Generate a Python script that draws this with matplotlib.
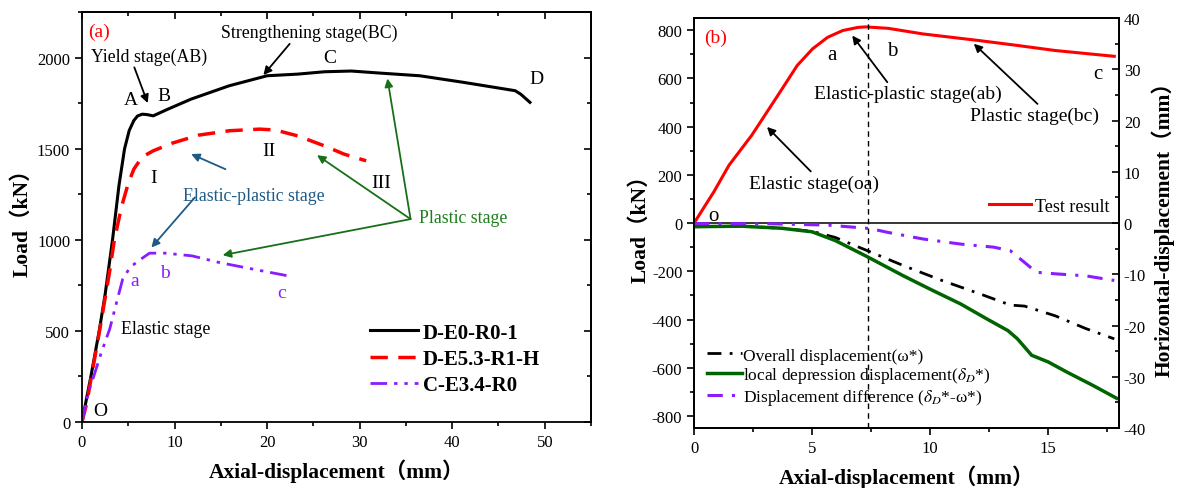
import numpy as np
import matplotlib
matplotlib.use("Agg")
import matplotlib.pyplot as plt
from matplotlib.ticker import MultipleLocator

plt.rcParams['font.family'] = ['Liberation Serif', 'Noto Sans CJK SC']
plt.rcParams['mathtext.fontset'] = 'stix'
plt.rcParams['axes.unicode_minus'] = False

# ---- panel (a): load vs axial displacement ----
a_black_x = [0, 0.5, 1.0, 1.86, 2.5, 3.3, 4.0, 4.6, 5.1, 5.6, 6.0, 6.5, 7.0, 7.7, 9.3, 11.8,
             15.9, 20.0, 23.3, 26.2, 29.1, 32.4, 36.5, 41.2, 46.8, 47.4, 48.4]
a_black_y = [0, 130, 260, 500, 700, 1000, 1300, 1500, 1600, 1655, 1680, 1690, 1688, 1681, 1718, 1773,
             1846, 1901, 1910, 1923, 1927, 1915, 1901, 1865, 1819, 1800, 1755]
a_red_x = [0, 0.5, 1.9, 3.0, 3.5, 4.3, 5.0, 5.6, 6.5, 7.7, 9.75, 12.6, 15.9, 19.2, 20.9, 23.3,
           26.2, 28.3, 30.7]
a_red_y = [0, 100, 500, 830, 1000, 1187, 1310, 1388, 1455, 1489, 1531, 1575, 1599, 1608, 1603, 1571,
           1516, 1471, 1434]
a_purple_x = [0, 0.7, 1.3, 2.1, 3.0, 3.6, 4.4, 5.2, 6.1, 7.3, 9.0, 11.9, 14.8, 18.1, 22.2]
a_purple_y = [0, 164, 255, 383, 511, 630, 785, 849, 885, 927, 927, 912, 876, 843, 803]
a_labels = ["D-E0-R0-1", "D-E5.3-R1-H", "C-E3.4-R0"]

# ---- panel (b): load and horizontal displacement ----
b_load_x = [0, 0.84, 1.48, 2.44, 3.09, 3.73, 4.37, 5.02, 5.66, 6.30, 6.95, 7.27, 8.23, 9.68,
            12.1, 13.7, 15.3, 17.8]
b_load_y = [0, 130, 240, 364, 461, 557, 654, 723, 771, 799, 812, 814, 808, 785,
            757, 737, 716, 692]
b_local_x = [0, 2, 3.7, 5, 5.98, 7.27, 8.87, 10, 11.3, 12.4, 13.3, 13.7, 14.3, 15.0, 15.8, 16.9, 17.9]
b_local_y = [-0.7, -0.6, -1.0, -1.7, -3.4, -6.4, -10.3, -12.9, -15.8, -18.7, -21, -22.6, -25.8,
             -27.1, -29.1, -31.7, -34.2]
b_overall_x = [0, 2, 3.7, 5, 5.98, 7.35, 8.87, 10.5, 12.1, 13.4, 14.0, 15.3, 16.6, 17.8]
b_overall_y = [-0.7, -0.6, -1.0, -1.6, -2.8, -5.4, -8.3, -11.2, -13.8, -16.0, -16.2, -18.1, -20.6, -22.6]
b_diff_x = [0, 3, 5.7, 7.3, 7.6, 8.2, 9.7, 11.3, 12.7, 13.4, 13.9, 14.5, 15.3, 16.6, 17.8]
b_diff_y = [-0.1, -0.1, -0.4, -1.0, -1.2, -1.8, -3.1, -4.1, -4.7, -5.4, -7.3, -9.6, -9.9, -10.3, -11.2]
b_peak_x = 7.35

fig = plt.figure(figsize=(11.95, 4.89), dpi=100)
ax1 = fig.add_axes([0.0686, 0.135, 0.426, 0.838])
ax2 = fig.add_axes([0.5808, 0.1227, 0.3556, 0.838])

purple = '#8a1cff'
green_txt = '#1d7d1d'
blue_txt = '#1f5a85'
arr = dict(arrowstyle='-|>', lw=1.3, mutation_scale=12, shrinkA=0, shrinkB=0)
fs_note = 12.8

# panel (a)
ax1.plot(a_black_x, a_black_y, color='black', lw=2.2, label=a_labels[0])
ax1.plot(a_red_x, a_red_y, color='red', lw=2.5, ls=(0, (5, 3)), label=a_labels[1])
ax1.plot(a_purple_x, a_purple_y, color=purple, lw=2, ls=(0, (6, 2.5, 1.2, 2.5, 1.2, 2.5)),
         label=a_labels[2])
ax1.set_xlim(0, 55)
ax1.set_ylim(0, 2250)
ax1.xaxis.set_major_locator(MultipleLocator(10))
ax1.xaxis.set_minor_locator(MultipleLocator(5))
ax1.yaxis.set_major_locator(MultipleLocator(500))
ax1.yaxis.set_minor_locator(MultipleLocator(250))
ax1.tick_params(which='both', direction='out', labelsize=12, width=1.2)
ax1.tick_params(which='major', length=5)
ax1.tick_params(which='minor', length=3)
for side, f in (('top', ax1.secondary_xaxis), ('right', ax1.secondary_yaxis)):
    sec = f(side)
    if side == 'top':
        sec.xaxis.set_major_locator(MultipleLocator(10))
        sec.xaxis.set_minor_locator(MultipleLocator(5))
    else:
        sec.yaxis.set_major_locator(MultipleLocator(500))
        sec.yaxis.set_minor_locator(MultipleLocator(250))
    sec.tick_params(which='both', direction='in', labelleft=False, labelright=False,
                    labeltop=False, labelbottom=False, width=1.2)
    sec.tick_params(which='major', length=5)
    sec.tick_params(which='minor', length=3)
    sec.spines[side].set_linewidth(1.3)
for s in ax1.spines.values():
    s.set_linewidth(1.3)
ax1.set_xlabel("Axial-displacement（mm）", fontsize=15.5, fontweight='bold', labelpad=6)
ax1.set_ylabel("Load（kN）", fontsize=15.5, fontweight='bold', labelpad=3)

ax1.text(0.012, 0.953, "(a)", transform=ax1.transAxes, color='red', fontsize=14, va='center')
ax1.annotate("Yield stage(AB)", xy=(7.1, 1751), xytext=(7.3, 2010), ha='center', va='center',
             fontsize=fs_note, arrowprops=dict(arr, color='black', relpos=(0.36, 0)))
ax1.annotate("Strengthening stage(BC)", xy=(19.6, 1905), xytext=(24.6, 2139), ha='center',
             va='center', fontsize=fs_note, arrowprops=dict(arr, color='black', relpos=(0.4, 0)))
for t, x, y in (("A", 5.3, 1773), ("B", 8.85, 1791), ("C", 26.8, 2002), ("D", 49.1, 1888),
                ("I", 7.7, 1342), ("II", 20.2, 1489), ("III", 32.3, 1315), ("O", 2.0, 64)):
    ax1.text(x, y, t, fontsize=14, ha='center', va='center')
for t, x, y in (("a", 5.7, 776), ("b", 9.0, 821), ("c", 21.6, 712)):
    ax1.text(x, y, t, fontsize=14, ha='center', va='center', color=purple)
ax1.text(9.0, 516, "Elastic stage", fontsize=fs_note, ha='center', va='center')
ax1.text(18.6, 1242, "Elastic-plastic stage", fontsize=fs_note, ha='center', va='center', color=blue_txt)
ax1.annotate("", xy=(11.8, 1471), xytext=(15.5, 1388), arrowprops=dict(arr, color=blue_txt))
ax1.annotate("", xy=(7.5, 958), xytext=(12.2, 1233), arrowprops=dict(arr, color=blue_txt))
ax1.text(41.2, 1123, "Plastic stage", fontsize=fs_note, ha='center', va='center', color=green_txt)
for tx, ty in ((25.4, 1465), (33.0, 1886), (15.2, 916)):
    ax1.annotate("", xy=(tx, ty), xytext=(35.5, 1114), arrowprops=dict(arr, color='#177017'))

ax1.legend(loc='center left', bbox_to_anchor=(0.565, 0.154), frameon=False,
           borderaxespad=0, borderpad=0, handlelength=2.3, handletextpad=0.25,
           labelspacing=0.3, prop=dict(size=15, weight='bold'))

# panel (b)
ax2.plot(b_load_x, b_load_y, color='red', lw=2.2, label="Test result")
ax2.axhline(0, color='black', lw=1.1)
ax2.axvline(b_peak_x, color='black', lw=1, ls=(0, (4, 3)))
ax2.set_xlim(0, 18)
ax2.set_ylim(-850, 850)
ax2.xaxis.set_major_locator(MultipleLocator(5))
ax2.xaxis.set_minor_locator(MultipleLocator(2.5))
ax2.yaxis.set_major_locator(MultipleLocator(200))
ax2.yaxis.set_minor_locator(MultipleLocator(100))
ax2.tick_params(which='both', direction='out', labelsize=12, width=1.2)
ax2.tick_params(which='major', length=5)
ax2.tick_params(which='minor', length=3)
ax2.set_xlabel("Axial-displacement（mm）", fontsize=15.5, fontweight='bold', labelpad=6)
ax2.set_ylabel("Load（kN）", fontsize=15.5, fontweight='bold', labelpad=1)

ax3 = ax2.twinx()
l1, = ax3.plot(b_overall_x, b_overall_y, color='black', lw=2, ls=(0, (5, 3, 1, 3)),
               label="Overall displacement(ω*)")
l2, = ax3.plot(b_local_x, b_local_y, color='#006400', lw=2.5,
               label=r"local depression displacement($\delta_D$*)")
l3, = ax3.plot(b_diff_x, b_diff_y, color=purple, lw=2.2, ls=(0, (5, 3, 1, 3)),
               label=r"Displacement difference ($\delta_D$*-ω*)")
ax3.set_ylim(-40, 40)
ax3.yaxis.set_major_locator(MultipleLocator(10))
ax3.yaxis.set_minor_locator(MultipleLocator(5))
ax3.tick_params(which='both', direction='in', labelsize=12, width=1.2)
ax3.tick_params(which='major', length=5)
ax3.tick_params(which='minor', length=3)
ax3.set_ylabel("Horizontal-displacement（mm）", fontsize=15.5, fontweight='bold', labelpad=4)
for a in (ax2, ax3):
    for s in a.spines.values():
        s.set_linewidth(1.3)

ax2.text(0.024, 0.954, "(b)", transform=ax2.transAxes, color='red', fontsize=14, va='center')
for t, x, y in (("a", 5.85, 698), ("b", 8.4, 716), ("c", 17.1, 619), ("o", 0.84, 33)):
    ax2.text(x, y, t, fontsize=15, ha='center', va='center')
ax2.annotate("Elastic-plastic stage(ab)", xy=(6.7, 778), xytext=(9.07, 537), ha='center',
             va='center', fontsize=14, arrowprops=dict(arr, color='black', relpos=(0.4, 1)))
ax2.annotate("Plastic stage(bc)", xy=(11.85, 744), xytext=(14.4, 447), ha='center',
             va='center', fontsize=14, arrowprops=dict(arr, color='black', relpos=(0.55, 1)))
ax2.annotate("Elastic stage(oa)", xy=(3.09, 399), xytext=(5.06, 167), ha='center',
             va='center', fontsize=14, arrowprops=dict(arr, color='black', relpos=(0.5, 1)))

ax2.legend(loc='center left', bbox_to_anchor=(0.695, 0.541), frameon=False, borderaxespad=0,
           borderpad=0, handlelength=2.3, handletextpad=0.2, prop=dict(size=13))
ax3.legend(handles=[l1, l2, l3], loc='center left', bbox_to_anchor=(0.03, 0.124), frameon=False,
           borderaxespad=0, borderpad=0, handlelength=2.0, handletextpad=0.1,
           labelspacing=0.1, prop=dict(size=12.5))

fig.savefig("out.png", dpi=100)
